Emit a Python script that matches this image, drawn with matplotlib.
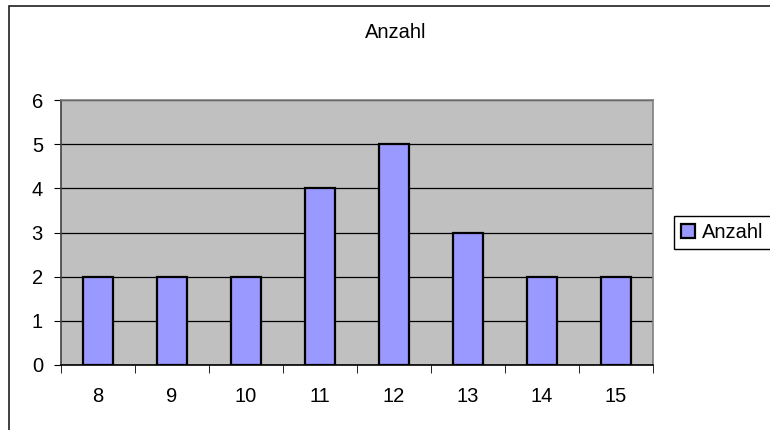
# Excel-style column chart: Anzahl
import matplotlib.pyplot as plt
from matplotlib.patches import Rectangle

# data
categories = ["8", "9", "10", "11", "12", "13", "14", "15"]
anzahl = [2, 2, 2, 4, 5, 3, 2, 2]
y_ticks = [0, 1, 2, 3, 4, 5, 6]

plt.rcParams['font.family'] = ['Liberation Sans', 'DejaVu Sans']
plt.rcParams['font.size'] = 14.5

W, H = 770, 430
fig = plt.figure(figsize=(W / 100, H / 100), dpi=100)

# chart border (only top and left visible in the picture)
fig.patches.append(Rectangle((8.5 / W, -0.1), 2, 1.1 - 6.5 / H, transform=fig.transFigure,
                             facecolor='none', edgecolor='#202020', linewidth=1.2))

ax = fig.add_axes([61 / W, 1 - 365 / H, 592 / W, 265 / H])
ax.set_facecolor('#C0C0C0')

x = range(len(categories))
ax.bar(x, anzahl, width=0.4, color='#9999FF', edgecolor='black', linewidth=1.6,
       label='Anzahl', zorder=3)

ax.set_xlim(-0.5, len(categories) - 0.5)
ax.set_ylim(0, 6)
ax.set_yticks(y_ticks)
ax.yaxis.grid(True, color='black', linewidth=0.9, zorder=1)
ax.set_axisbelow(True)

# category labels centred, ticks on boundaries
ax.set_xticks(list(x))
ax.set_xticklabels(categories)
ax.tick_params(axis='x', length=0, pad=16)
ax.set_xticks([i - 0.5 for i in range(len(categories) + 1)], minor=True)
ax.tick_params(axis='x', which='minor', length=6, color='black', direction='out')
ax.tick_params(axis='y', length=5, color='black', pad=8)

ax.spines['left'].set_color('#404040')
ax.spines['bottom'].set_color('black')
ax.spines['top'].set_color('#808080')
ax.spines['right'].set_color('#808080')
for s in ax.spines.values():
    s.set_linewidth(1.2)

fig.text(396 / W, 1 - 33 / H, 'Anzahl', ha='center', va='center')

leg = ax.legend(loc='center left', bbox_to_anchor=(674 / W, 1 - 232.5 / H),
                bbox_transform=fig.transFigure, borderaxespad=0, fancybox=False,
                edgecolor='black', framealpha=1, handlelength=0.7, handleheight=0.7,
                handletextpad=0.35, borderpad=0.35, fontsize=14.5)
leg.get_frame().set_linewidth(1.0)

plt.savefig('out.png', dpi=100)
